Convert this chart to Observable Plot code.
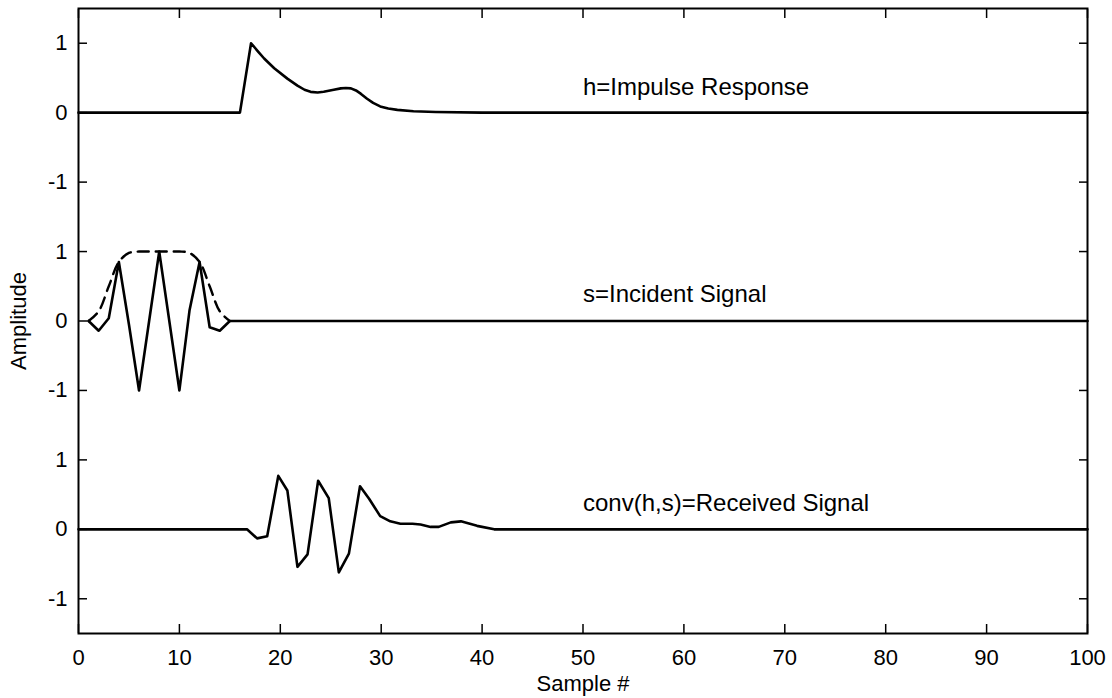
<!DOCTYPE html>
<html>
<head>
<meta charset="utf-8">
<script src="https://cdn.jsdelivr.net/npm/d3@7"></script>
<script src="https://cdn.jsdelivr.net/npm/@observablehq/plot@0.6"></script>
<style>
  html, body { margin: 0; padding: 0; background: #fff; }
</style>
</head>
<body>
<div id="chart"></div>
<script>
// Impulse response h (amplitude, drawn with offset +6)
const hX = [0, 16.0, 17.1, 17.8, 18.4, 19.4, 20.7, 21.7, 22.4, 23.0, 23.7, 24.3, 25.3, 26.0, 26.5, 27.0, 27.5, 28.0, 28.6, 29.2, 29.9, 30.7, 31.6, 33.2, 35.4, 40, 100];
const hY = [0, 0, 1, 0.88, 0.78, 0.64, 0.49, 0.39, 0.33, 0.30, 0.29, 0.30, 0.33, 0.35, 0.355, 0.35, 0.32, 0.27, 0.20, 0.14, 0.09, 0.06, 0.04, 0.02, 0.01, 0, 0];

// Incident signal s (offset +3)
const sX = [1, 2, 3, 4, 5, 6, 7, 8, 9, 10, 11, 12, 13, 14, 15, 100];
const sY = [0, -0.14, 0.04, 0.85, -0.05, -1, 0, 1, 0, -1, 0.15, 0.85, -0.09, -0.14, 0, 0];

// Envelope of s (dashed, offset +3)
const envX = [1, 2, 3, 4, 5, 6, 7, 8, 9, 10, 11, 12, 13, 14, 15];
const envY = [0, 0.14, 0.5, 0.85, 0.98, 1, 1, 1, 1, 1, 0.98, 0.85, 0.5, 0.14, 0];

// Received signal conv(h,s) (offset 0)
const cX = [0, 16.7, 17.7, 18.7, 19.8, 20.7, 21.7, 22.7, 23.75, 24.8, 25.8, 26.8, 27.9, 28.8, 29.9, 30.9, 31.9, 33.1, 33.9, 34.9, 35.7, 36.9, 37.9, 39.5, 41.2, 100];
const cY = [0, 0, -0.13, -0.10, 0.77, 0.56, -0.54, -0.36, 0.70, 0.45, -0.62, -0.35, 0.62, 0.44, 0.19, 0.115, 0.08, 0.08, 0.07, 0.035, 0.035, 0.10, 0.115, 0.05, 0, 0];

const offsets = {h: 6, s: 3, c: 0};

const labels = ["h=Impulse Response", "s=Incident Signal", "conv(h,s)=Received Signal"];
const labelX = [50, 50, 50];
const labelY = [0.37, 0.38, 0.37];
const labelOffsets = [6, 3, 0];

const xTicks = [0, 10, 20, 30, 40, 50, 60, 70, 80, 90, 100];
const yTicks = [-1, 0, 1, 2, 3, 4, 5, 6, 7];
const yTickLabels = ["-1", "0", "1", "-1", "0", "1", "-1", "0", "1"];

const toRows = (xs, ys, off) => xs.map((x, i) => ({x, y: ys[i] + off}));
const hRows = toRows(hX, hY, offsets.h);
const sRows = toRows(sX, sY, offsets.s);
const envRows = toRows(envX, envY, offsets.s);
const cRows = toRows(cX, cY, offsets.c);
const textRows = labels.map((t, i) => ({t, x: labelX[i], y: labelY[i] + labelOffsets[i]}));

const font = "'Liberation Sans', Arial, Helvetica, sans-serif";

const chart = Plot.plot({
  width: 1112,
  height: 698,
  marginLeft: 78,
  marginRight: 25,
  marginTop: 8,
  marginBottom: 65,
  style: {fontFamily: font, fontSize: "22px", background: "#fff", color: "#000", overflow: "visible"},
  x: {domain: [0, 100]},
  y: {domain: [-1.5, 7.5]},
  marks: [
    Plot.axisX(xTicks, {anchor: "bottom", tickSize: 0, tickPadding: 16, fontSize: 22, label: "Sample #", labelAnchor: "center", labelOffset: 57, labelArrow: "none"}),
    Plot.axisX(xTicks, {anchor: "bottom", tickSize: -9, text: null, label: null, strokeWidth: 1.5}),
    Plot.axisX(xTicks, {anchor: "top", tickSize: -9, text: null, label: null, strokeWidth: 1.5}),
    Plot.axisY(yTicks, {anchor: "left", tickSize: 0, tickPadding: 11, fontSize: 22, tickFormat: d => yTickLabels[yTicks.indexOf(d)], label: "Amplitude", labelAnchor: "center", labelOffset: 68, labelArrow: "none"}),
    Plot.axisY(yTicks, {anchor: "left", tickSize: -9, text: null, label: null, strokeWidth: 1.5}),
    Plot.axisY(yTicks, {anchor: "right", tickSize: -9, text: null, label: null, strokeWidth: 1.5}),
    Plot.line(envRows, {x: "x", y: "y", stroke: "#000", strokeWidth: 2.4, strokeDasharray: "11,7", curve: "catmull-rom"}),
    Plot.line(hRows, {x: "x", y: "y", stroke: "#000", strokeWidth: 2.6}),
    Plot.line(sRows, {x: "x", y: "y", stroke: "#000", strokeWidth: 2.6}),
    Plot.line(cRows, {x: "x", y: "y", stroke: "#000", strokeWidth: 2.6}),
    Plot.text(textRows, {x: "x", y: "y", text: "t", textAnchor: "start", fontSize: 24, fill: "#000"}),
    Plot.frame({stroke: "#000", strokeWidth: 2})
  ]
});

document.getElementById("chart").appendChild(chart);
</script>
</body>
</html>
